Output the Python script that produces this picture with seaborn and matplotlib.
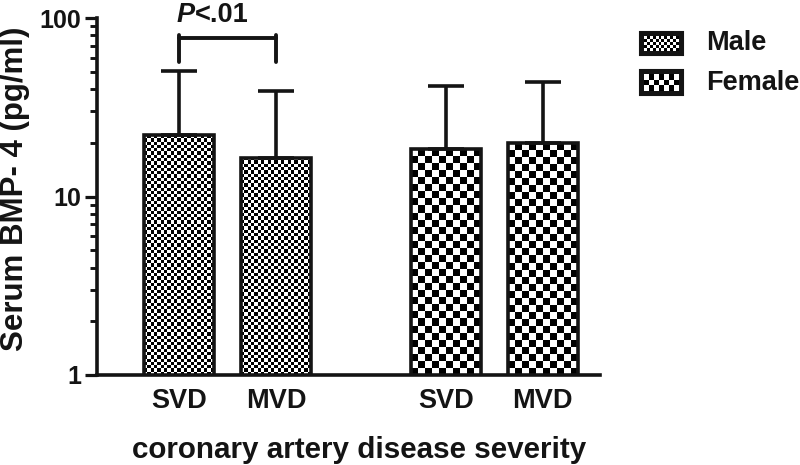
import numpy as np
import pandas as pd
import matplotlib
matplotlib.use("Agg")
import matplotlib.pyplot as plt
import seaborn as sns
from matplotlib.image import BboxImage
from matplotlib.transforms import Bbox, TransformedBbox
from matplotlib.patches import Rectangle
from matplotlib.ticker import FixedLocator, LogLocator, NullFormatter

# ---------------- data ----------------
sex = ["Male", "Male", "Female", "Female"]
severity = ["SVD", "MVD", "SVD", "MVD"]
mean_bmp4 = [22.1, 16.5, 18.4, 19.9]
upper_bmp4 = [50.2, 38.8, 41.8, 44.0]   # top of error bars (mean + SD)
y_ticks = [1, 10, 100]
y_tick_labels = ["1", "10", "100"]
legend_labels = ["Male", "Female"]

# ---------------- layout / style ----------------
positions = [0, 1, 2.75, 3.75]
cell_px = {"Male": 3.3, "Female": 7.0}
INK = "#141414"
LW = 2.6

sns.set_theme(style="ticks")
plt.rcParams["font.family"] = ["Liberation Sans", "DejaVu Sans"]
plt.rcParams["font.weight"] = "bold"

df = pd.DataFrame({"pos": positions, "sex": sex, "severity": severity,
                   "mean": mean_bmp4, "upper": upper_bmp4})

W, H = 800, 465
fig = plt.figure(figsize=(W / 100, H / 100), dpi=100)
ax = fig.add_axes([97 / W, 1 - 375 / H, 503 / W, (375 - 18) / H])

sns.barplot(data=df, x="pos", y="mean", native_scale=True, width=0.72,
            errorbar=None, color="white", ax=ax, zorder=3)

ax.set_yscale("log")
ax.set_ylim(1, 100)
ax.set_xlim(-0.845, 4.34)


def checker(nr, nc):
    return (np.indices((nr, nc)).sum(axis=0) % 2).astype(float)


def add_checker(bbox_data, transform, cell, zorder=2):
    p0 = transform.transform((bbox_data.x0, bbox_data.y0))
    p1 = transform.transform((bbox_data.x1, bbox_data.y1))
    wpx, hpx = abs(p1[0] - p0[0]), abs(p1[1] - p0[1])
    arr = checker(max(1, int(round(hpx / cell))), max(1, int(round(wpx / cell))))
    im = BboxImage(TransformedBbox(bbox_data, transform), cmap="gray_r",
                   norm=plt.Normalize(0, 1), interpolation="nearest",
                   origin="upper", zorder=zorder)
    im.set_data(arr)
    ax.add_artist(im)
    return im


bars = sorted(ax.patches, key=lambda p: p.get_x())
for patch, s in zip(bars, sex):
    patch.set_facecolor("none")
    patch.set_edgecolor(INK)
    patch.set_linewidth(LW)
    patch.set_zorder(4)
    x0, w, h = patch.get_x(), patch.get_width(), patch.get_height()
    add_checker(Bbox.from_extents(x0, 1, x0 + w, h), ax.transData, cell_px[s])

means = np.array(mean_bmp4)
uppers = np.array(upper_bmp4)
ax.errorbar(positions, means, yerr=[np.zeros_like(means), uppers - means],
            fmt="none", ecolor=INK, elinewidth=LW, capsize=13, capthick=LW,
            zorder=5)

# axes styling
sns.despine(ax=ax)
for sp in ["left", "bottom"]:
    ax.spines[sp].set_linewidth(LW)
    ax.spines[sp].set_color(INK)

ax.yaxis.set_major_locator(FixedLocator(y_ticks))
ax.set_yticklabels(y_tick_labels, fontsize=18, fontweight="bold")
ax.yaxis.set_minor_locator(LogLocator(base=10, subs=np.arange(2, 10)))
ax.yaxis.set_minor_formatter(NullFormatter())
ax.tick_params(axis="y", which="major", length=8.6, width=2.3, pad=3.0,
               color=INK, labelcolor=INK)
ax.tick_params(axis="y", which="minor", length=5, width=2.1, color=INK)

ax.set_xticks(positions)
ax.set_xticklabels(severity, fontsize=19.5, fontweight="bold")
ax.tick_params(axis="x", length=0, pad=9.5, labelcolor=INK)

ax.set_ylabel("Serum BMP- 4 (pg/ml)", fontsize=22.5, fontweight="bold", color=INK)
ax.yaxis.label.set_va("center")
ax.yaxis.set_label_coords(-0.163, 0.521)

ax.set_xlabel("coronary artery disease severity", fontsize=21.3,
              fontweight="bold", color=INK)
ax.xaxis.label.set_va("baseline")
ax.xaxis.set_label_coords(0.521, -0.2325)

# significance bracket
ax.plot([0, 1], [77.3, 77.3], color=INK, lw=2.8, solid_capstyle="round",
        clip_on=False, zorder=6)
for xb in [0, 1]:
    ax.plot([xb, xb], [56.7, 80.7], color=INK, lw=2.8, solid_capstyle="round",
            clip_on=False, zorder=6)
ax.text(0.165, 95, "P", ha="right", va="baseline", style="italic",
        fontweight="bold", fontsize=19.5, color=INK, clip_on=False)
ax.text(0.165, 95, "<.01", ha="left", va="baseline",
        fontweight="bold", fontsize=19.5, color=INK, clip_on=False)

# legend (drawn in figure coordinates)
legend_rows = {"Male": (32, 55), "Female": (70, 95)}
for lab in legend_labels:
    top, bot = legend_rows[lab]
    x0, x1 = 640, 683
    fb = Bbox.from_extents(x0 / W, 1 - bot / H, x1 / W, 1 - top / H)
    ib = Bbox.from_extents((x0 + 4) / W, 1 - (bot - 4) / H, (x1 - 4) / W, 1 - (top + 4) / H)
    fig.add_artist(Rectangle((fb.x0, fb.y0), fb.width, fb.height,
                             transform=fig.transFigure, facecolor=INK,
                             edgecolor=INK, lw=1.5, zorder=2))
    im = BboxImage(TransformedBbox(ib, fig.transFigure), cmap="gray_r",
                   norm=plt.Normalize(0, 1), interpolation="nearest",
                   origin="upper", zorder=3)
    cell = 2.8 if lab == "Male" else 5.2
    im.set_data(checker(max(1, int(round((bot - top - 8) / cell))),
                        max(1, int(round((x1 - x0 - 8) / cell)))))
    fig.add_artist(im)
    fig.text(706 / W, 1 - (top + bot) / 2 / H, lab, ha="left", va="center",
             fontsize=19.5, fontweight="bold", color=INK)

fig.savefig("out.png", dpi=100)
